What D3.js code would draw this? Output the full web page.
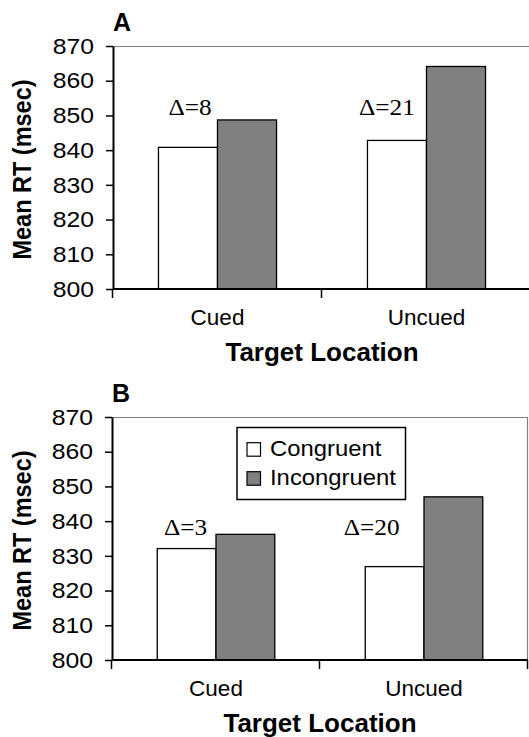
<!DOCTYPE html>
<html>
<head>
<meta charset="utf-8">
<script src="https://cdn.jsdelivr.net/npm/d3@7"></script>
<style>
  body { margin: 0; background: #fff; }
  svg { display: block; }
  text { fill: #000; }
</style>
</head>
<body>
<div id="chart"></div>
<script>
// values (msec)
const categories = ['Cued', 'Uncued']
const conditions = ['Congruent', 'Incongruent']
const congruentA = [840.8, 842.8]
const incongruentA = [848.7, 864.1]
const congruentB = [832.1, 826.9]
const incongruentB = [836.2, 847.0]
const deltaLabelsA = ['\u0394=8', '\u0394=21']
const deltaLabelsB = ['\u0394=3', '\u0394=20']
const yTicks = [800, 810, 820, 830, 840, 850, 860, 870]
const yDomain = [800, 870]

const width = 529
const height = 737
const sans = 'Arial, "Liberation Sans", Helvetica, sans-serif'
const serif = '"Times New Roman", "Liberation Serif", Times, serif'
const fills = { Congruent: '#ffffff', Incongruent: '#808080' }

// layout of each panel (pixels) - data stays in the arrays above
// panel A runs slightly past the right edge of the picture
const panels = [
  { name: 'A', top: 46, bottom: 289, left: 113, right: 531, congruent: congruentA, incongruent: incongruentA,
    deltas: deltaLabelsA, deltaAt: 850, nudge: [2, -10], legend: false, rightBorder: false },
  { name: 'B', top: 417, bottom: 660, left: 112, right: 528, congruent: congruentB, incongruent: incongruentB,
    deltas: deltaLabelsB, deltaAt: 836, nudge: [-1, -23], legend: true, rightBorder: true }
]

const svg = d3.select('#chart').append('svg')
    .attr('width', width)
    .attr('height', height)

panels.forEach(drawPanel)

function drawPanel(p) {
  const rows = categories.map((c, i) => ({
    category: c,
    Congruent: p.congruent[i],
    Incongruent: p.incongruent[i]
  }))

  const x = d3.scaleBand()
      .domain(categories)
      .range([p.left, p.right])
      .padding(0)

  const xInner = d3.scaleBand()
      .domain(conditions)
      .range([0, x.bandwidth()])
      .paddingInner(0)
      .paddingOuter(0.77)

  const y = d3.scaleLinear()
      .domain(yDomain)
      .range([p.bottom, p.top])

  const g = svg.append('g').classed('panel-' + p.name, true)

  // gray frame on top (and right in panel B)
  g.append('line')
      .attr('x1', p.left).attr('x2', p.right)
      .attr('y1', p.top + 0.5).attr('y2', p.top + 0.5)
      .attr('stroke', '#808080').attr('stroke-width', 1.2)
  if (p.rightBorder) {
    g.append('line')
        .attr('x1', p.right - 0.5).attr('x2', p.right - 0.5)
        .attr('y1', p.top).attr('y2', p.bottom)
        .attr('stroke', '#808080').attr('stroke-width', 1.2)
  }

  // bars
  g.append('g')
    .selectAll('g')
    .data(rows).enter()
    .append('g')
      .attr('transform', d => `translate(${x(d.category)},0)`)
    .selectAll('rect')
    .data(d => conditions.map(k => ({ key: k, value: d[k] }))).enter()
    .append('rect')
      .attr('x', d => xInner(d.key))
      .attr('y', d => y(d.value))
      .attr('width', xInner.bandwidth())
      .attr('height', d => y(yDomain[0]) - y(d.value))
      .attr('fill', d => fills[d.key])
      .attr('stroke', '#000')
      .attr('stroke-width', 1.3)

  // delta annotations
  g.append('g')
    .selectAll('text')
    .data(p.deltas).enter()
    .append('text')
      .attr('transform', (d, i) => {
        const cx = x(categories[i]) + xInner('Congruent') + xInner.bandwidth() / 2 + p.nudge[i]
        return `translate(${cx},${y(p.deltaAt)}) scale(1.1,1)`
      })
      .attr('text-anchor', 'middle')
      .style('font-family', serif)
      .style('font-size', '23px')
      .text(d => d)

  // y axis
  const yAxis = d3.axisLeft(y)
      .tickValues(yTicks)
      .tickSize(7)
      .tickPadding(12)
      .tickSizeOuter(0)

  const yAxisElement = g.append('g')
      .attr('transform', `translate(${p.left},0)`)
      .call(yAxis)
  yAxisElement.select('.domain').attr('stroke-width', 2)
  yAxisElement.selectAll('.tick line').attr('stroke-width', 1.5)
  yAxisElement.selectAll('.tick text')
      .attr('x', -19 / 1.1)
      .attr('transform', 'scale(1.1,1)')
      .style('font-family', sans)
      .style('font-size', '22.5px')

  // x axis: labels at band centres, ticks at band edges
  const xAxis = d3.axisBottom(x)
      .tickSize(0)
      .tickPadding(20)

  const xAxisElement = g.append('g')
      .attr('transform', `translate(0,${p.bottom})`)
      .call(xAxis)
  xAxisElement.select('.domain').remove()
  xAxisElement.selectAll('.tick text')
      .style('font-family', sans)
      .style('font-size', '22.5px')

  const edges = categories.map(c => x(c)).concat([x(categories[categories.length - 1]) + x.bandwidth()])
  g.append('line')
      .attr('x1', p.left).attr('x2', p.right)
      .attr('y1', p.bottom).attr('y2', p.bottom)
      .attr('stroke', '#000').attr('stroke-width', 2)
  g.append('g')
    .selectAll('line')
    .data(edges).enter()
    .append('line')
      .attr('x1', d => d - 0.5).attr('x2', d => d - 0.5)
      .attr('y1', p.bottom).attr('y2', p.bottom + 9)
      .attr('stroke', '#000').attr('stroke-width', 1.5)

  // axis titles
  g.append('text')
      .attr('x', (p.left + p.right) / 2)
      .attr('y', p.bottom + 72)
      .attr('text-anchor', 'middle')
      .style('font-family', sans)
      .style('font-weight', 'bold')
      .style('font-size', '26px')
      .text('Target Location')

  g.append('text')
      .attr('transform', `translate(31,${(p.top + p.bottom) / 2 + 2}) rotate(-90) scale(1,1.12)`)
      .attr('text-anchor', 'middle')
      .style('font-family', sans)
      .style('font-weight', 'bold')
      .style('font-size', '23.5px')
      .text('Mean RT (msec)')

  // panel letter
  g.append('text')
      .attr('x', p.left)
      .attr('y', p.top - 15)
      .style('font-family', sans)
      .style('font-weight', 'bold')
      .style('font-size', '25px')
      .text(p.name)

  if (p.legend) drawLegend(g, p)
}

function drawLegend(g, p) {
  const box = { x: p.left + 125, y: p.top + 10.5, w: 168.5, h: 72 }
  const legend = g.append('g').classed('legend', true)
  legend.append('rect')
      .attr('x', box.x).attr('y', box.y)
      .attr('width', box.w).attr('height', box.h)
      .attr('fill', '#fff')
      .attr('stroke', '#000')
      .attr('stroke-width', 1.5)

  const item = legend.selectAll('g.item')
      .data(conditions).enter()
    .append('g')
      .classed('item', true)
      .attr('transform', (d, i) => `translate(${box.x + 10},${box.y + 28.7 + i * 29})`)

  item.append('rect')
      .attr('x', 0).attr('y', -13.5)
      .attr('width', 13.5).attr('height', 13.5)
      .attr('fill', d => fills[d])
      .attr('stroke', '#000')
      .attr('stroke-width', 1.2)

  item.append('text')
      .attr('transform', 'translate(23,0) scale(1.06,1)')
      .style('font-family', sans)
      .style('font-size', '22.5px')
      .text(d => d)
}
</script>
</body>
</html>
